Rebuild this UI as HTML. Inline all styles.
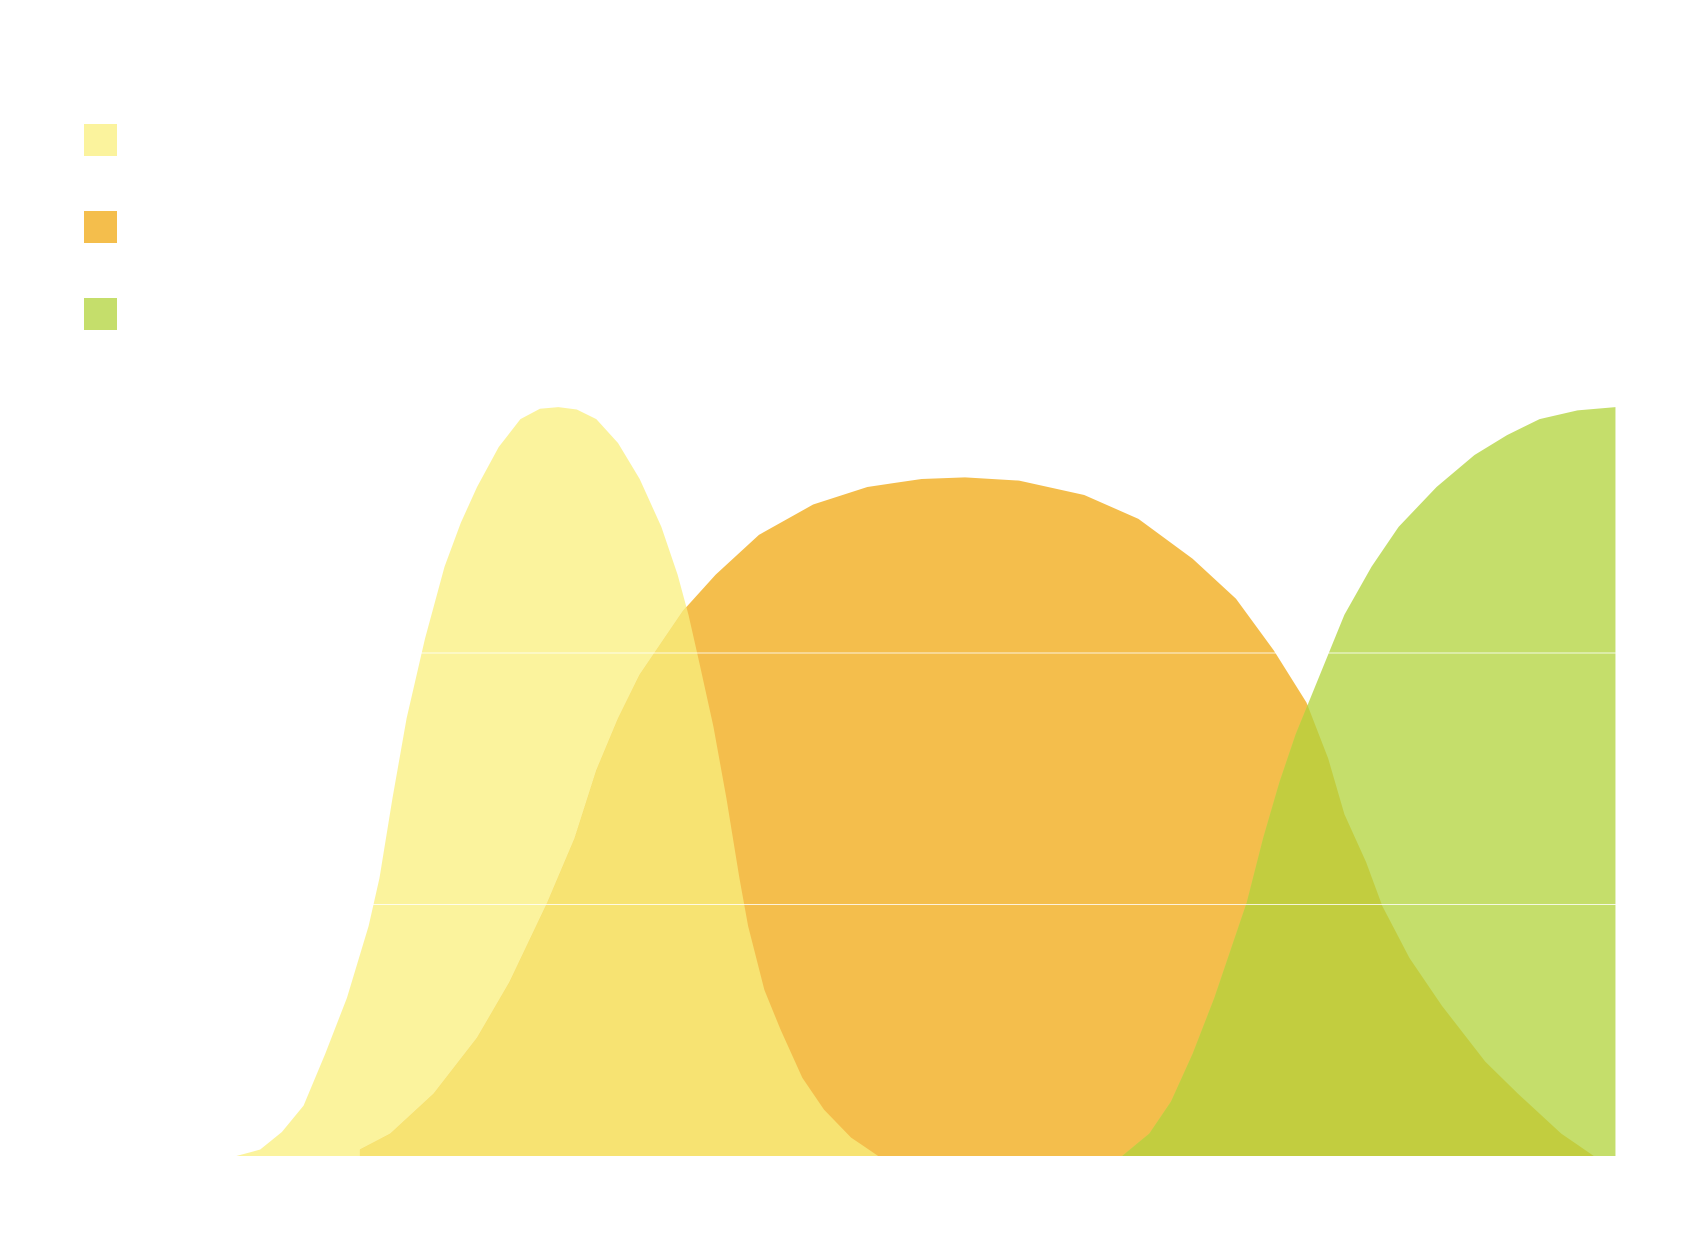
<!DOCTYPE html>
<html><head><style>html,body{margin:0;padding:0;background:#fff;}svg{display:block}</style></head>
<body>
<svg width="1700" height="1250" viewBox="0 0 1700 1250" xmlns="http://www.w3.org/2000/svg">
<defs>
<path id="yel" d="M218,1448 L240,1440 L260,1418 L280,1385 L300,1320 L320,1250 L340,1160 L350,1100 L362,1000 L375,900 L392,800 L410,710 L425,655 L440,610 L460,560 L480,525 L498,512 L515,510 L532,513 L550,525 L570,555 L590,600 L610,660 L625,720 L635,770 L645,830 L658,910 L670,1000 L682,1100 L690,1160 L705,1240 L720,1290 L740,1350 L760,1390 L785,1425 L810,1448 Z"/>
<path id="org" d="M332,1448 L332,1440 L360,1420 L400,1370 L440,1300 L470,1230 L505,1130 L530,1050 L550,965 L570,900 L590,845 L630,765 L660,720 L700,670 L750,632 L800,610 L850,600 L890,598 L940,602 L1000,620 L1050,650 L1100,700 L1140,750 L1175,815 L1205,880 L1225,950 L1240,1020 L1260,1080 L1275,1135 L1300,1200 L1330,1260 L1370,1330 L1400,1370 L1440,1420 L1470,1448 Z"/>
<path id="grn" d="M1035,1448 L1060,1420 L1080,1380 L1100,1320 L1120,1250 L1135,1190 L1150,1130 L1165,1050 L1180,980 L1195,920 L1210,870 L1240,770 L1265,710 L1290,660 L1325,610 L1360,570 L1390,545 L1420,525 L1455,514 L1490,510 L1490,1448 Z"/>
<clipPath id="cy"><use href="#yel"/></clipPath>
<clipPath id="cg"><use href="#grn"/></clipPath>
</defs>
<rect x="84" y="124" width="33" height="32" fill="#FBF39D"/>
<rect x="84" y="211" width="33" height="32" fill="#F4BE4C"/>
<rect x="84" y="298" width="33" height="32" fill="#C5DE6B"/>
<g transform="scale(1.0842,0.7983)">
<use href="#yel" fill="#FBF39D"/>
<use href="#org" fill="#F4BE4C"/>
<use href="#grn" fill="#C5DE6B"/>
<use href="#org" fill="#F7E372" clip-path="url(#cy)"/>
<use href="#org" fill="#C2CD3F" clip-path="url(#cg)"/>
<line x1="200" y1="818" x2="1490" y2="818" stroke="#fff" stroke-width="1.3" stroke-opacity="0.8"/>
<line x1="200" y1="1133" x2="1490" y2="1133" stroke="#fff" stroke-width="1.3" stroke-opacity="0.8"/>
</g>
</svg>
</body></html>
